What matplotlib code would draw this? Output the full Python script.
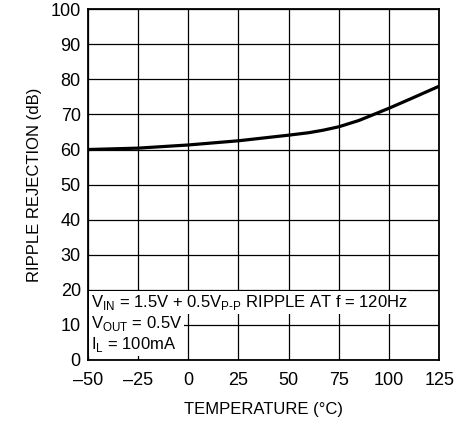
import numpy as np
import matplotlib
matplotlib.use('Agg')
import matplotlib.pyplot as plt

plt.rcParams['font.family'] = ['Liberation Sans', 'DejaVu Sans']
plt.rcParams['mathtext.fontset'] = 'custom'
plt.rcParams['mathtext.rm'] = 'Liberation Sans'

# curve
temp = [-50, -25, 0, 25, 50, 60, 67, 75, 85, 100, 112, 125]
rej = [60.0, 60.4, 61.3, 62.5, 64.1, 64.8, 65.5, 66.5, 68.3, 71.8, 74.8, 78.1]

xticks = [-50, -25, 0, 25, 50, 75, 100, 125]
yticks = [0, 10, 20, 30, 40, 50, 60, 70, 80, 90, 100]

fig = plt.figure(figsize=(4.69, 4.21), dpi=100)
ax = fig.add_axes([0.187, 0.145, 0.75, 0.833])

ax.plot(temp, rej, color='black', lw=2.3, solid_capstyle='butt', zorder=3)

ax.set_xlim(-50, 125)
ax.set_ylim(0, 100)
ax.set_xticks(xticks)
ax.set_yticks(yticks)
ax.set_xticklabels(['\u201350', '\u201325', '0', '25', '50', '75', '100', '125'])
ax.grid(True, color='black', lw=0.9)
ax.tick_params(length=0, labelsize=13)
ax.tick_params(axis='x', pad=9)
ax.tick_params(axis='y', pad=5)
for s in ax.spines.values():
    s.set_linewidth(1.3)

ax.set_xlabel('TEMPERATURE (\u00b0C)', fontsize=12, labelpad=9)
ax.set_ylabel('RIPPLE REJECTION (dB)', fontsize=12, labelpad=6)

lines = [r'V$_{\mathregular{IN}}$ = 1.5V + 0.5V$_{\mathregular{P\text{-}P}}$ RIPPLE AT f = 120Hz',
         r'V$_{\mathregular{OUT}}$ = 0.5V',
         r'I$_{\mathregular{L}}$ = 100mA']
ys = [16.5, 10.5, 4.3]
for t, y in zip(lines, ys):
    ax.text(-48.5, y, t, fontsize=12, va='center', ha='left', zorder=4,
            bbox=dict(facecolor='white', edgecolor='none', pad=1.5))

fig.savefig('out.png', dpi=100)
